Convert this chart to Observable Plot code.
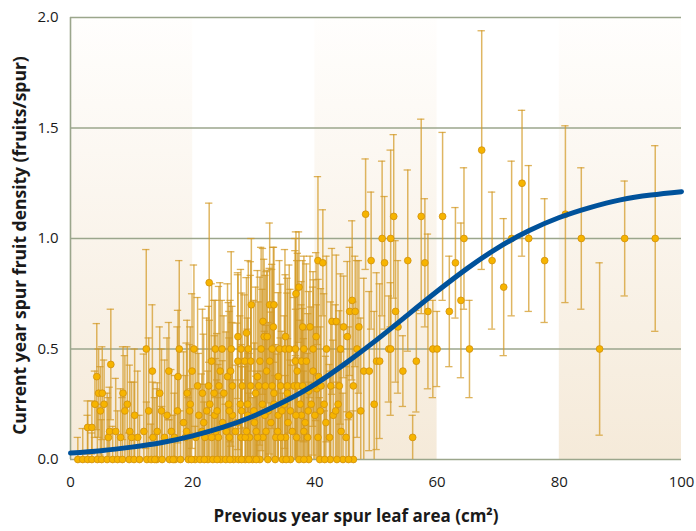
<!DOCTYPE html>
<html>
<head>
<meta charset="utf-8">
<script src="https://cdn.jsdelivr.net/npm/d3@7"></script>
<script src="https://cdn.jsdelivr.net/npm/@observablehq/plot@0.6"></script>
<style>
  html, body { margin: 0; padding: 0; background: #ffffff; }
  #chart { width: 696px; height: 531px; }
</style>
</head>
<body>
<div id="chart"></div>
<script>
// ---- Data ----
const xTicks = [0, 20, 40, 60, 80, 100];
const yTicks = [0, 0.5, 1.0, 1.5, 2.0];
const bandStart = [0, 40, 80];
const bandEnd = [20, 60, 100];

// Observations: leaf area (cm²), fruit density (fruits/spur), half error bar
const leafArea = [
  // y = 0
  1.2,2.0,2.8,3.5,4.4,5.1,6.0,6.9,7.7,8.5,9.6,10.4,11.3,12.5,13.2,14.1,15.0,16.2,17.1,18.0,19.3,20.4,21.2,22.5,23.3,24.6,25.4,26.7,27.5,28.6,29.8,31.0,32.3,33.5,34.7,36.0,37.4,39.0,40.8,42.5,44.6,46.3,
  30.4,35.3,38.2,41.6,43.6,45.5,13.8,16.8,19.8,21.9,24.0,26.1,28.0,29.2,
  // y = 0.10
  6.2,8.2,11.0,13.5,15.4,17.0,18.8,20.5,22.0,24.2,26.0,27.9,29.3,31.5,33.6,35.2,37.0,45.1,56.0,
  10.0,23.1,28.6,30.6,34.4,38.8,40.5,42.4,
  // y = 0.13
  6.4,7.4,9.7,12.0,14.2,16.5,19.0,21.5,23.8,25.5,27.0,28.8,30.4,32.0,33.9,36.3,38.2,44.3,
  // y = 0.145
  2.8,3.5,
  // y = 0.167
  18.5,21.8,24.9,27.3,30.1,32.8,35.6,38.4,41.8,
  // y = 0.20
  10.5,15.8,21.0,26.5,31.8,37.8,45.6,
  23.6,29.0,34.0,36.9,40.0,43.0,
  // y = 0.22
  4.9,8.9,12.8,14.9,17.5,19.5,22.3,24.0,26.0,28.0,30.0,32.4,34.6,36.0,38.9,40.9,43.4,47.5,
  // y = 0.25
  4.0,5.5,9.3,19.6,27.8,33.3,37.6,41.5,49.7,
  22.8,25.9,29.0,31.4,35.0,39.4,43.8,
  // y = 0.30
  4.6,5.2,8.6,14.6,19.1,21.6,23.5,25.1,30.3,33.3,35.5,39.0,40.3,
  // y = 0.33
  26.5,28.1,29.5,30.8,33.0,34.4,36.6,37.2,38.0,39.8,41.0,46.3,
  20.8,22.6,24.3,31.9,35.5,42.6,44.0,
  // y = 0.375
  4.3,17.6,25.7,30.6,34.0,40.6,
  // y = 0.40
  13.4,16.1,19.9,24.5,26.2,32.1,37.1,39.7,48.0,48.9,54.4,
  // y = 0.43
  6.6,
  // y = 0.445
  23.1,27.4,28.5,29.5,31.0,32.6,36.8,37.8,38.6,50.1,50.6,56.6,
  // y = 0.50
  12.4,17.8,23.7,24.8,27.9,34.2,35.1,35.8,36.8,38.2,39.7,46.9,52.1,52.4,59.3,60.0,65.3,86.6,
  20.2,26.3,29.1,31.2,33.0,41.9,44.2,
  // y = 0.556
  27.4,31.7,32.2,35.2,40.2,45.3,
  // y = 0.573
  28.8,
  // y = 0.60
  33.2,38.0,39.2,44.7,47.2,53.6,
  // y = 0.625
  31.5,42.8,43.5,
  // y = 0.67
  45.7,46.6,53.2,58.5,62.0,
  // y = 0.70
  29.6,32.6,33.3,
  // y = 0.72
  46.1,63.9,
  // y = 0.75 - 0.80
  36.9,37.4,70.9,22.7,
  // y = 0.9
  40.5,41.3,49.2,51.4,55.2,58.0,63.0,69.0,77.6,
  // y = 1.0
  51.0,52.4,64.4,72.2,75.0,83.6,90.7,95.7,
  // y = 1.1+
  48.3,52.9,57.4,60.9,81.0,73.9,67.3
];

const fruitDensity = [
  0,0,0,0,0,0,0,0,0,0,0,0,0,0,0,0,0,0,0,0,0,0,0,0,0,0,0,0,0,0,0,0,0,0,0,0,0,0,0,0,0,0,
  0,0,0,0,0,0,0,0,0,0,0,0,0,0,
  0.10,0.10,0.10,0.10,0.10,0.10,0.10,0.10,0.10,0.10,0.10,0.10,0.10,0.10,0.10,0.10,0.10,0.10,0.10,
  0.10,0.10,0.10,0.10,0.10,0.10,0.10,0.10,
  0.127,0.127,0.127,0.127,0.127,0.127,0.127,0.127,0.127,0.127,0.127,0.127,0.127,0.127,0.127,0.127,0.127,0.127,
  0.145,0.145,
  0.167,0.167,0.167,0.167,0.167,0.167,0.167,0.167,0.167,
  0.20,0.20,0.20,0.20,0.20,0.20,0.20,
  0.20,0.20,0.20,0.20,0.20,0.20,
  0.22,0.22,0.22,0.22,0.22,0.22,0.22,0.22,0.22,0.22,0.22,0.22,0.22,0.22,0.22,0.22,0.22,0.22,
  0.25,0.25,0.25,0.25,0.25,0.25,0.25,0.25,0.25,
  0.25,0.25,0.25,0.25,0.25,0.25,0.25,
  0.30,0.30,0.30,0.30,0.30,0.30,0.30,0.30,0.30,0.30,0.30,0.31,0.32,
  0.333,0.333,0.333,0.333,0.333,0.333,0.333,0.333,0.333,0.333,0.333,0.333,
  0.333,0.333,0.333,0.333,0.333,0.333,0.333,
  0.375,0.375,0.375,0.375,0.375,0.375,
  0.40,0.40,0.40,0.40,0.40,0.40,0.40,0.40,0.40,0.40,0.40,
  0.43,
  0.445,0.445,0.445,0.445,0.445,0.445,0.445,0.445,0.445,0.445,0.445,0.445,
  0.50,0.50,0.50,0.50,0.50,0.50,0.50,0.50,0.50,0.50,0.50,0.50,0.50,0.50,0.50,0.50,0.50,0.50,
  0.50,0.50,0.50,0.50,0.50,0.50,0.50,
  0.556,0.556,0.556,0.556,0.556,0.556,
  0.573,
  0.60,0.60,0.60,0.60,0.60,0.60,
  0.625,0.625,0.625,
  0.67,0.67,0.67,0.67,0.67,
  0.70,0.70,0.70,
  0.72,0.72,
  0.75,0.78,0.78,0.80,
  0.90,0.89,0.90,0.89,0.90,0.89,0.89,0.90,0.90,
  1.0,1.0,1.0,1.0,1.0,1.0,1.0,1.0,
  1.11,1.10,1.10,1.10,1.11,1.25,1.40
];

const halfError = [
  0.10,0.14,0.20,0.12,0.25,0.18,0.30,0.15,0.22,0.28,0.12,0.35,0.20,0.26,0.16,0.32,0.24,0.18,0.38,0.22,0.28,0.15,0.34,0.40,0.20,0.30,0.25,0.36,0.18,0.42,0.28,0.33,0.22,0.38,0.30,0.45,0.26,0.35,0.28,0.40,0.30,0.22,
  0.30,0.25,0.40,0.22,0.35,0.18,0.28,0.20,0.32,0.26,0.36,0.24,0.42,0.30,
  0.18,0.22,0.30,0.25,0.35,0.20,0.28,0.40,0.24,0.33,0.45,0.26,0.38,0.30,0.42,0.28,0.36,0.32,0.10,
  0.25,0.35,0.40,0.30,0.45,0.38,0.28,0.33,
  0.20,0.24,0.30,0.35,0.22,0.28,0.40,0.26,0.33,0.45,0.30,0.38,0.25,0.48,0.35,0.30,0.42,0.36,
  0.12,0.12,
  0.32,0.40,0.28,0.45,0.36,0.50,0.38,0.42,0.30,
  0.30,0.35,0.28,0.42,0.38,0.50,0.40,
  0.36,0.44,0.30,0.48,0.40,0.34,
  0.20,0.25,0.33,0.28,0.38,0.30,0.42,0.35,0.45,0.30,0.50,0.40,0.36,0.55,0.44,0.38,0.48,0.42,
  0.15,0.20,0.26,0.35,0.40,0.45,0.38,0.50,0.42,
  0.38,0.46,0.34,0.52,0.40,0.44,0.36,
  0.20,0.21,0.21,0.30,0.33,0.38,0.42,0.35,0.48,0.40,0.52,0.45,0.38,
  0.36,0.42,0.50,0.38,0.55,0.46,0.40,0.60,0.35,0.48,0.44,0.38,
  0.40,0.36,0.45,0.50,0.42,0.38,0.34,
  0.24,0.30,0.42,0.48,0.38,0.44,
  0.30,0.22,0.35,0.40,0.32,0.45,0.50,0.38,0.42,0.36,0.16,
  0.25,
  0.35,0.40,0.30,0.45,0.38,0.42,0.50,0.36,0.44,0.40,0.35,0.23,
  0.45,0.40,0.22,0.22,0.36,0.40,0.45,0.38,0.50,0.42,0.35,0.40,0.24,0.30,0.22,0.17,0.22,0.39,
  0.38,0.44,0.40,0.46,0.36,0.42,0.34,
  0.28,0.35,0.30,0.28,0.38,0.34,
  0.25,
  0.36,0.30,0.32,0.23,0.30,0.30,
  0.33,0.33,0.30,
  0.29,0.25,0.32,0.35,0.25,
  0.30,0.37,0.26,
  0.36,0.35,
  0.28,0.25,0.31,0.36,
  0.38,0.24,0.31,0.30,0.41,0.29,0.25,0.31,0.28,
  0.35,0.40,0.32,0.35,0.33,0.32,0.26,0.42,
  0.25,0.37,0.44,0.38,0.40,0.33,0.54
];

// Fitted curve at 5 cm² steps
const curveArea = [0,5,10,15,20,25,30,35,40,45,50,55,60,65,70,75,80,85,90,95,100];
const curveDensity = [0.029,0.040,0.056,0.077,0.107,0.146,0.197,0.262,0.340,0.435,0.539,0.650,0.761,0.866,0.959,1.035,1.095,1.140,1.175,1.197,1.212];

// ---- Build tables ----
const points = leafArea.map((x, i) => ({
  x,
  y: fruitDensity[i],
  lo: fruitDensity[i] - halfError[i],
  hi: fruitDensity[i] + halfError[i]
}));
const bands = bandStart.map((s, i) => ({x1: s, x2: bandEnd[i]}));
const curve = curveArea.map((x, i) => ({x, y: curveDensity[i]}));

const gridColor = "#9ba68c";
const barColor = "#d39a26";
const capHalf = 0.6;

const chart = Plot.plot({
  width: 696,
  height: 531,
  marginLeft: 70,
  marginRight: 15,
  marginTop: 17,
  marginBottom: 72,
  style: {fontFamily: "'Open Sans', 'DejaVu Sans', sans-serif", fontSize: "15px", color: "#1a1a1a", background: "#ffffff"},
  x: {domain: [0, 100]},
  y: {domain: [0, 2]},
  marks: [
    Plot.rect(bands, {x1: "x1", x2: "x2", y1: 0, y2: 2, fill: "url(#bandGrad)"}),
    Plot.ruleY(yTicks, {stroke: gridColor, strokeWidth: 1.4}),
    Plot.ruleX([0], {stroke: gridColor, strokeWidth: 1.6}),
    Plot.ruleX(points, {x: "x", y1: "lo", y2: "hi", stroke: barColor, strokeOpacity: 0.72, strokeWidth: 1.5, clip: true}),
    Plot.ruleY(points, {y: "hi", x1: d => d.x - capHalf, x2: d => d.x + capHalf, stroke: barColor, strokeOpacity: 0.75, strokeWidth: 1.3, clip: true}),
    Plot.ruleY(points.filter(d => d.lo > 0), {y: "lo", x1: d => d.x - capHalf, x2: d => d.x + capHalf, stroke: barColor, strokeOpacity: 0.75, strokeWidth: 1.3, clip: true}),
    Plot.dot(points, {x: "x", y: "y", r: 3.4, fill: "#f6b400", stroke: "#d1900f", strokeWidth: 0.8}),
    Plot.line(curve, {x: "x", y: "y", stroke: "#00529b", strokeWidth: 5, curve: "natural"}),
    Plot.axisY(yTicks, {tickSize: 0, tickPadding: 12, tickFormat: d => d.toFixed(1), fontSize: 15, label: null}),
    Plot.axisX(xTicks, {tickSize: 0, tickPadding: 17, fontSize: 15, label: null}),
    Plot.text(["Current year spur fruit density (fruits/spur)"], {frameAnchor: "left", textAnchor: "middle", rotate: -90, dx: -50, dy: 7, fontSize: 17.5, fontWeight: "bold", fill: "#1a1a1a"}),
    Plot.text(["Previous year spur leaf area (cm²)"], {frameAnchor: "bottom", textAnchor: "middle", dy: 62, dx: -20, fontSize: 17, fontWeight: "bold", fill: "#1a1a1a"})
  ]
});

// Vertical gradient for the background bands
const ns = "http://www.w3.org/2000/svg";
const defs = document.createElementNS(ns, "defs");
const grad = document.createElementNS(ns, "linearGradient");
grad.setAttribute("id", "bandGrad");
grad.setAttribute("x1", "0"); grad.setAttribute("y1", "0");
grad.setAttribute("x2", "0"); grad.setAttribute("y2", "1");
[["0", "#fffefd"], ["1", "#f5ead9"]].forEach(([o, c]) => {
  const s = document.createElementNS(ns, "stop");
  s.setAttribute("offset", o);
  s.setAttribute("stop-color", c);
  grad.appendChild(s);
});
defs.appendChild(grad);
chart.insertBefore(defs, chart.firstChild);

document.getElementById("chart").appendChild(chart);
</script>
</body>
</html>
